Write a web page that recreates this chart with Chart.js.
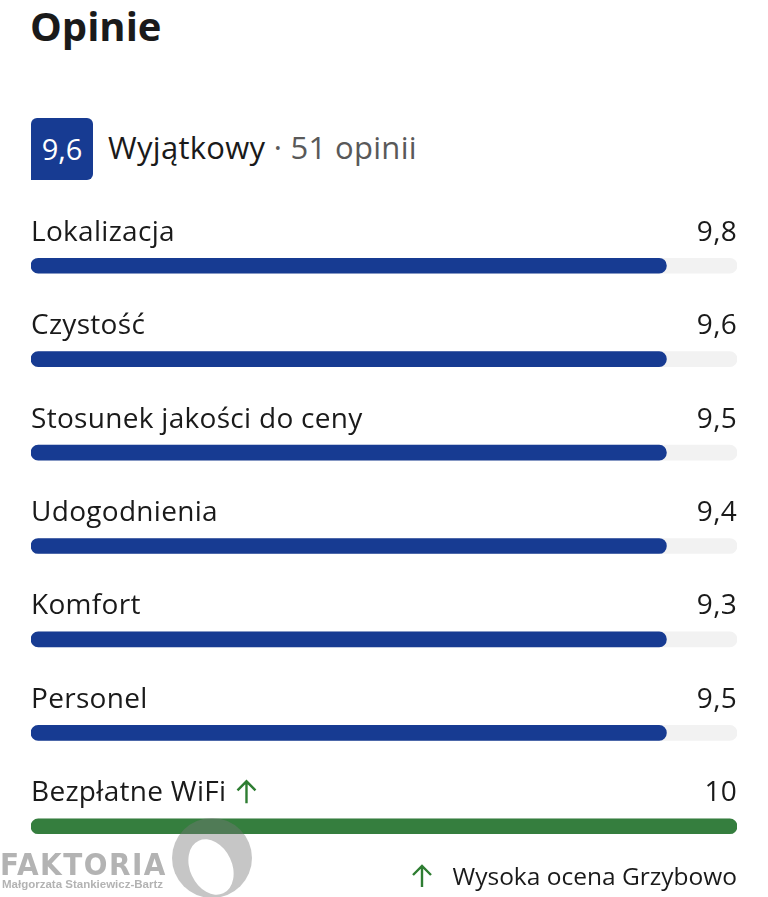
<!DOCTYPE html>
<html lang="pl">
<head>
<meta charset="UTF-8">
<title>Opinie</title>
<script src="https://cdn.jsdelivr.net/npm/chart.js"></script>
<style>
  html, body { margin: 0; padding: 0; background: #fff; }
  body { width: 768px; height: 897px; position: relative; overflow: hidden;
         font-family: "Open Sans", Roboto, sans-serif; color: #1a1a1a; }
  .title { position: absolute; left: 30px; top: -2px; font-size: 40px; font-weight: 700; }
  .badge { position: absolute; left: 31px; top: 118px; width: 62px; height: 62px;
           background: #173b92; color: #fff; border-radius: 6px 6px 6px 0;
           font-size: 29px; line-height: 62px; text-align: center; }
  .score { position: absolute; left: 108px; top: 126px; font-size: 31px; letter-spacing: 0.3px; white-space: nowrap; }
  .score .muted { color: #595959; }
  .chart-box { position: absolute; left: 31px; top: 219px; width: 706px; height: 654px; }
  .note { position: absolute; right: 31px; top: 859px; font-size: 24.5px; white-space: nowrap; }
  .note svg { vertical-align: -3px; margin-right: 20px; }
  .wm { position: absolute; left: 0; top: 846px; color: #b3b3b3; }
  .wm .big { font-size: 31px; font-weight: 700; letter-spacing: 1.5px; font-family: "DejaVu Sans Condensed", "Liberation Sans Narrow", sans-serif; }
  .wm .small { font-size: 11.5px; font-weight: 700; font-family: "Liberation Sans Narrow", sans-serif; margin-left: 2px; margin-top: -4px; }
  .logo { position: absolute; left: 172px; top: 818px; width: 80px; height: 80px; border-radius: 50%;
          background: rgba(120,120,120,0.42); overflow: hidden; }
  .logo::after { content: ""; position: absolute; left: 18px; top: 20px; width: 42px; height: 58px;
          border-radius: 50%; background: #fff; transform: rotate(-25deg); }
</style>
</head>
<body>
  <div class="title">Opinie</div>
  <div class="badge">9,6</div>
  <div class="score">Wyjątkowy <span class="muted">· 51 opinii</span></div>

  <div class="chart-box"><canvas id="ratingChart"></canvas></div>

  <div class="wm"><div class="big">FAKTORIA</div><div class="small">Małgorzata Stankiewicz-Bartz</div></div>
  <div class="logo"></div>
  <div class="note"><svg width="22" height="24" viewBox="0 0 22 24"><path d="M11 23V2M2 11l9-9 9 9" fill="none" stroke="#2e7d32" stroke-width="2.4"/></svg>Wysoka ocena Grzybowo</div>

<script>
// kategorie i oceny odczytane ze zrzutu
const categories = ['Lokalizacja', 'Czystość', 'Stosunek jakości do ceny', 'Udogodnienia', 'Komfort', 'Personel', 'Bezpłatne WiFi'];
const scores = [9.8, 9.6, 9.5, 9.4, 9.3, 9.5, 10];
// długość paska na zrzucie (skala 0-10)
const barLevels = [9, 9, 9, 9, 9, 9, 10];
const maxScore = 10;
const highlighted = [false, false, false, false, false, false, true];

const blue = '#173b92';
const green = '#357e3e';
const track = '#f2f2f2';

const labelPlugin = {
    id: 'rowLabels',
    afterDatasetsDraw(chart) {
        const ctx = chart.ctx;
        const area = chart.chartArea;
        const yScale = chart.scales.y;
        ctx.save();
        ctx.font = '28px "Open Sans", Roboto, sans-serif';
        ctx.letterSpacing = '0.3px';
        ctx.textBaseline = 'alphabetic';
        categories.forEach((cat, i) => {
            const y = yScale.getPixelForValue(i) - 25;
            ctx.fillStyle = '#1a1a1a';
            ctx.textAlign = 'left';
            ctx.fillText(cat, area.left, y);
            if (highlighted[i]) {
                // zielona strzałka w górę
                const x = area.left + ctx.measureText(cat).width + 20;
                ctx.strokeStyle = '#2e7d32';
                ctx.lineWidth = 2.4;
                ctx.beginPath();
                ctx.moveTo(x, y + 2);
                ctx.lineTo(x, y - 20);
                ctx.moveTo(x - 9, y - 11);
                ctx.lineTo(x, y - 20);
                ctx.lineTo(x + 9, y - 11);
                ctx.stroke();
            }
            ctx.fillStyle = '#1a1a1a';
            ctx.textAlign = 'right';
            ctx.fillText(String(scores[i]).replace('.', ','), area.right, y);
        });
        ctx.restore();
    }
};

const chart = new Chart(document.getElementById('ratingChart'), {
    type: 'bar',
    data: {
        labels: categories,
        datasets: [{
            data: barLevels,
            backgroundColor: highlighted.map(h => h ? green : blue),
            barThickness: 15,
            borderRadius: 8,
            borderSkipped: false,
            grouped: false,
            order: 1
        }, {
            data: categories.map(() => maxScore),
            backgroundColor: track,
            barThickness: 15,
            borderRadius: 8,
            borderSkipped: false,
            grouped: false,
            order: 2
        }]
    },
    options: {
        indexAxis: 'y',
        responsive: true,
        maintainAspectRatio: false,
        animation: false,
        layout: { padding: 0 },
        plugins: { legend: { display: false }, tooltip: { enabled: false } },
        scales: {
            x: { display: false, min: 0, max: maxScore },
            y: { display: false, offset: true }
        }
    },
    plugins: [labelPlugin]
});
</script>
</body>
</html>
